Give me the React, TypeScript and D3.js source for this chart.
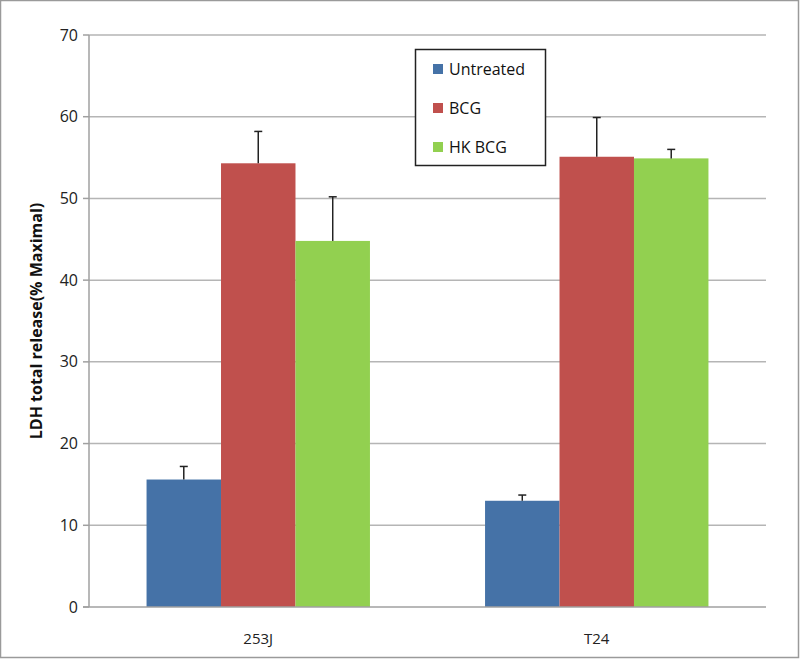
import React from "react";
import * as d3 from "d3";

const categories = ["253J", "T24"];
const seriesNames = ["Untreated", "BCG", "HK BCG"];
const colors = ["#4572A7", "#C0504D", "#92D050"];
const untreated = [15.6, 13.0];
const bcg = [54.3, 55.1];
const hkbcg = [44.8, 54.9];
const untreatedErr = [1.6, 0.7];
const bcgErr = [3.9, 4.8];
const hkbcgErr = [5.4, 1.1];
const yTicks = [0, 10, 20, 30, 40, 50, 60, 70];

const values = [untreated, bcg, hkbcg];
const errs = [untreatedErr, bcgErr, hkbcgErr];

export default function App() {
  const W = 800, H = 660;
  const left = 89, right = 766, top = 35, bottom = 607;
  const font = "'Open Sans', 'Noto Sans', sans-serif";
  const x0 = d3.scaleBand().domain(categories).range([left, right]).paddingInner(0.34).paddingOuter(0.17);
  const x1 = d3.scaleBand().domain(seriesNames).range([0, x0.bandwidth()]);
  const y = d3.scaleLinear().domain([0, 70]).range([bottom, top]);

  return (
    <svg width={W} height={H} style={{ position: "absolute", left: 0, top: 0 }} fontFamily={font}>
      <rect x={0.5} y={0.5} width={W - 2} height={H - 3} fill="white" stroke="#9a9a9a" strokeWidth={1.5} />
      {yTicks.map((t) => (
        <g key={t}>
          {t > 0 && <line x1={left} x2={right} y1={y(t)} y2={y(t)} stroke="#b5b5b5" strokeWidth={1.5} />}
          <line x1={left - 6} x2={left} y1={y(t)} y2={y(t)} stroke="#a0a0a0" strokeWidth={1.5} />
          <text x={left - 11} y={y(t)} dy="0.35em" textAnchor="end" fontSize={16} fill="#222">{t}</text>
        </g>
      ))}
      {categories.map((c, ci) => (
        <g key={c}>
          {seriesNames.map((s, si) => {
            const bx = (x0(c) as number) + (x1(s) as number);
            const bw = x1.bandwidth();
            const v = values[si][ci];
            const e = errs[si][ci];
            const cx = bx + bw / 2;
            return (
              <g key={s}>
                <rect x={bx} y={y(v)} width={bw} height={y(0) - y(v)} fill={colors[si]} />
                <line x1={cx} x2={cx} y1={y(v)} y2={y(v + e)} stroke="#222" strokeWidth={1.5} />
                <line x1={cx - 4} x2={cx + 4} y1={y(v + e)} y2={y(v + e)} stroke="#222" strokeWidth={1.5} />
              </g>
            );
          })}
          <text x={(x0(c) as number) + x0.bandwidth() / 2} y={639} dy="0.35em" textAnchor="middle" fontSize={15} fill="#222">{c}</text>
        </g>
      ))}
      <line x1={left} x2={left} y1={top} y2={bottom} stroke="#a0a0a0" strokeWidth={1.5} />
      <line x1={left - 6} x2={right} y1={bottom} y2={bottom} stroke="#a0a0a0" strokeWidth={1.5} />
      <text transform={`translate(36, ${(top + bottom) / 2}) rotate(-90)`} textAnchor="middle" dy="0.35em" fontSize={16} fontWeight="bold" fill="#111">LDH total release(% Maximal)</text>
      <g>
        <rect x={415.5} y={49.5} width={130} height={116} fill="white" stroke="#222" strokeWidth={1.5} />
        {seriesNames.map((s, i) => (
          <g key={s}>
            <rect x={433} y={64 + i * 39} width={10} height={10} fill={colors[i]} />
            <text x={449} y={69 + i * 39} dy="0.35em" fontSize={16} fill="#111">{s}</text>
          </g>
        ))}
      </g>
    </svg>
  );
}
